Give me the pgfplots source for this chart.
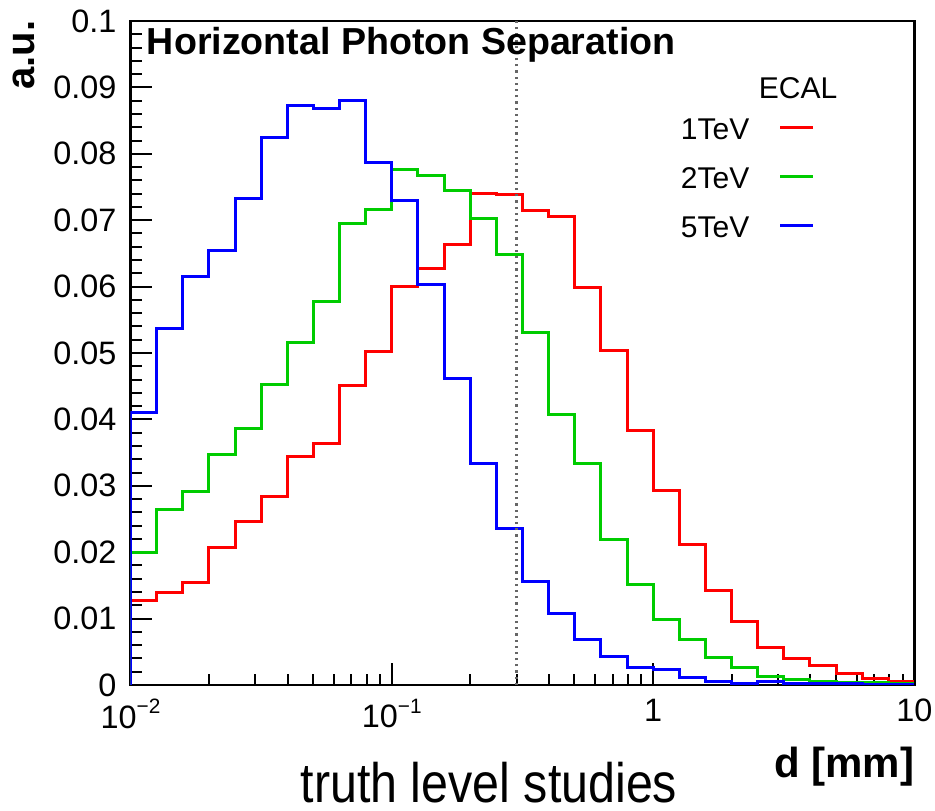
\documentclass[border=0pt]{standalone}
\usepackage{fontspec}
\setmainfont{Liberation Sans}
\usepackage{pgfplots}
\usepackage{pgfplotstable}
\pgfplotsset{compat=1.18}

\definecolor{rootred}{RGB}{255,0,0}
\definecolor{rootgreen}{RGB}{0,204,0}
\definecolor{rootblue}{RGB}{0,0,255}

% bin low edges (10 bins per decade) and bin contents, last row closes the last bin
\pgfplotstableread{
edge      red     green   blue
0.01      0       0       0
0.01      0.0128  0.0199  0.0410
0.012589  0.0139  0.0265  0.0537
0.015849  0.0155  0.0291  0.0615
0.019953  0.0207  0.0347  0.0655
0.025119  0.0246  0.0386  0.0733
0.031623  0.0284  0.0453  0.0824
0.039811  0.0344  0.0516  0.0873
0.050119  0.0364  0.0578  0.0868
0.063096  0.0451  0.0695  0.0880
0.079433  0.0503  0.0716  0.0787
0.1       0.0600  0.0777  0.0729
0.12589   0.0628  0.0768  0.0603
0.15849   0.0663  0.0745  0.0461
0.19953   0.0740  0.0702  0.0334
0.25119   0.0738  0.0648  0.0235
0.31623   0.0714  0.0531  0.0156
0.39811   0.0705  0.0407  0.0107
0.50119   0.0599  0.0333  0.0068
0.63096   0.0504  0.0219  0.0043
0.79433   0.0384  0.0151  0.0027
1         0.0293  0.0098  0.0023
1.2589    0.0212  0.0069  0.0011
1.5849    0.0143  0.0042  0.0006
1.9953    0.0096  0.0026  0.0003
2.5119    0.0056  0.0013  0.0006
3.1623    0.0040  0.0008  0.0002
3.9811    0.0029  0.0005  0.0002
5.0119    0.0018  0.0004  0.0002
6.3096    0.0010  0.0004  0.0001
7.9433    0.0006  0.0003  0.0001
10        0.0006  0.0003  0.0001
}\histdata

\newcommand{\fs}[1]{\fontsize{#1}{1.2\dimexpr#1\relax}\selectfont}
\newcommand{\tenpow}[1]{10\raisebox{3.6bp}{\fs{5.2bp}#1}}

\begin{document}
\begin{tikzpicture}
\begin{axis}[
  scale only axis,
  width=196bp, height=166bp,
  xmode=log,
  xmin=0.01, xmax=10,
  ymin=0, ymax=0.1,
  axis line style={line width=0.6bp},
  tick pos=left,
  tick align=inside,
  tick style={black, line width=0.5bp},
  major tick length=5.5bp,
  minor tick length=2.8bp,
  xtick={0.01,0.1,1,10},
  xticklabels={\tenpow{−2},\tenpow{−1},1,10},
  minor xtick={0.02,0.03,0.04,0.05,0.06,0.07,0.08,0.09,
               0.2,0.3,0.4,0.5,0.6,0.7,0.8,0.9,
               2,3,4,5,6,7,8,9},
  ytick={0,0.01,0.02,0.03,0.04,0.05,0.06,0.07,0.08,0.09,0.1},
  minor y tick num=4,
  scaled y ticks=false,
  yticklabel style={/pgf/number format/fixed, /pgf/number format/precision=2},
  /pgf/number format/assume math mode=true,
  ticklabel style={font=\fs{8.1bp}},
  every axis plot/.append style={line width=0.75bp, const plot},
]
\addplot[rootred]   table[x=edge, y=red]   {\histdata};
\addplot[rootgreen] table[x=edge, y=green] {\histdata};
\addplot[rootblue]  table[x=edge, y=blue]  {\histdata};
\draw[densely dotted, black!60, line width=0.55bp] (axis cs:0.3,0) -- (axis cs:0.3,0.1);
\end{axis}

% title, axis titles, caption
\node[anchor=base west, inner sep=0, font=\bfseries\fs{9.4bp}] at (3.9bp,157.7bp) {Horizontal Photon Separation};
\node[anchor=base east, rotate=90, inner sep=0, font=\bfseries\fs{10bp}] at (-23.9bp,166.25bp) {a.u.};
\node[anchor=base east, inner sep=0, font=\bfseries\fs{10.5bp}] at (196.1bp,-23bp) {d [mm]};
\node[anchor=base, inner sep=0, font=\fs{12.1bp}] at (89.6bp,-29.3bp) {\scalebox{1}[1.15]{truth level studies}};

% legend
\node[anchor=base west, inner sep=0, font=\fs{7.5bp}] at (156.9bp,146.5bp) {ECAL};
\foreach \lab/\col/\ly in {1TeV/rootred/127.7, 2TeV/rootgreen/176.7, 5TeV/rootblue/225.7}{
  \node[anchor=base east, inner sep=0, font=\fs{7.5bp}] at (154.9bp,{(685-\ly-11.5)*0.25bp}) {\lab};
  \draw[\col, line width=0.75bp] (162.4bp,{(685-\ly)*0.25bp}) -- (170.5bp,{(685-\ly)*0.25bp});
}

\pgfresetboundingbox
\path[use as bounding box] (-32.625bp,-31.5bp) rectangle (201.125bp,171.25bp);
\end{tikzpicture}
\end{document}
